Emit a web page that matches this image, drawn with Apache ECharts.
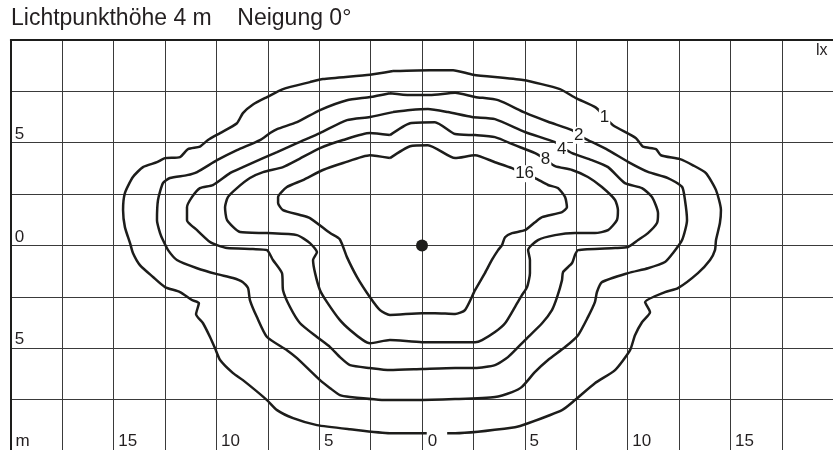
<!DOCTYPE html>
<html><head><meta charset="utf-8">
<script src="https://cdn.jsdelivr.net/npm/echarts@6/dist/echarts.min.js"></script>
<style>html,body{margin:0;padding:0;background:#fff}#c{width:833px;height:450px}</style>
</head><body><div id="c"></div>
<script>
const titleText = 'Lichtpunkthöhe 4 m    Neigung 0°';
const unitText = 'lx';
const xTickLabels = ['m','','15','','10','','5','','0','','5','','10','','15','',''];
const yTickLabels = ['','','5','','0','','5','',''];
const contourLevels = ['1','2','4','8','16'];
const labelPositions = [[8.88,6.22],[7.62,5.36],[6.79,4.70],[6.01,4.18],[4.99,3.49]];
const luminaire = [[0,0]];

const lux1 = [[-1.41,8.49],[0.39,8.53],[1.51,8.53],[2.48,8.31],[4.91,8.05],[6.71,7.61],[7.49,7.17],[8.46,6.71],[8.85,6.29],[9.29,5.85],[10.41,5.22],[10.75,4.81],[11.38,4.69],[11.62,4.39],[12.55,4.20],[13.18,3.90],[13.81,3.52],[14.30,2.69],[14.54,1.72],[14.49,1.09],[14.30,0.26],[14.25,-0.23],[14.01,-0.71],[13.42,-1.35],[12.45,-2.08],[11.82,-2.27],[10.85,-2.76],[11.09,-3.25],[10.70,-3.74],[10.36,-4.37],[10.12,-5.10],[9.39,-6.07],[8.41,-6.71],[7.44,-7.53],[6.81,-8.02],[5.16,-8.66],[4.52,-8.85],[1.61,-9.14],[0,-9.14],[-1.56,-9.14],[-3.50,-8.95],[-5.11,-8.75],[-6.27,-8.41],[-7.05,-8.02],[-7.54,-7.53],[-8.71,-6.56],[-9.19,-6.22],[-9.82,-5.58],[-10.07,-5.00],[-10.31,-4.46],[-10.65,-3.79],[-10.99,-3.35],[-10.85,-2.81],[-11.19,-2.66],[-11.77,-2.27],[-12.50,-2.03],[-13.08,-1.54],[-13.72,-0.96],[-14.06,-0.37],[-14.20,0.11],[-14.45,0.89],[-14.54,1.72],[-14.45,2.55],[-14.06,3.33],[-13.57,3.81],[-12.89,4.05],[-12.50,4.25],[-11.77,4.30],[-11.38,4.69],[-10.80,4.81],[-10.41,5.13],[-9.82,5.47],[-9.00,5.95],[-8.71,6.44],[-8.22,6.86],[-7.54,7.22],[-6.76,7.61],[-5.45,7.95],[-4.82,8.10],[-2.53,8.31],[-1.41,8.49]];

const lux2 = [[-1.56,7.41],[-0.58,7.32],[0.39,7.32],[1.61,7.43],[2.58,7.23],[3.70,7.07],[5.01,6.46],[6.13,6.02],[7.30,5.61],[7.59,5.37],[8.07,5.13],[9.05,4.64],[10.02,4.07],[10.99,3.58],[11.96,3.28],[12.65,2.85],[12.79,2.21],[12.89,1.23],[12.65,0.26],[12.21,-0.37],[11.82,-0.81],[10.99,-1.11],[10.02,-1.35],[8.75,-1.79],[8.51,-2.27],[8.41,-2.76],[8.07,-3.49],[7.59,-4.37],[6.96,-4.95],[6.13,-5.58],[5.50,-6.16],[4.86,-6.89],[4.38,-7.14],[3.55,-7.38],[1.61,-7.48],[-0.34,-7.53],[-1.70,-7.53],[-3.50,-7.38],[-3.99,-7.29],[-4.47,-6.95],[-4.96,-6.56],[-6.08,-5.49],[-6.57,-5.10],[-7.54,-4.46],[-8.03,-3.49],[-8.37,-2.66],[-8.46,-2.08],[-8.71,-1.79],[-9.19,-1.59],[-9.97,-1.40],[-10.94,-1.11],[-11.92,-0.71],[-12.35,-0.23],[-12.60,0.26],[-12.74,0.60],[-12.89,1.23],[-12.84,2.21],[-12.60,3.03],[-12.26,3.28],[-11.43,3.42],[-10.94,3.57],[-9.97,4.15],[-9.00,4.64],[-7.88,5.13],[-7.39,5.47],[-7.05,5.66],[-6.08,6.00],[-4.96,6.59],[-3.65,7.07],[-2.53,7.22],[-1.56,7.41]];

const lux4 = [[-1.41,6.49],[-0.58,6.59],[0.29,6.64],[1.26,6.49],[2.43,6.25],[3.55,6.15],[5.01,5.52],[6.47,5.03],[6.81,4.79],[7.30,4.49],[8.27,4.15],[9.05,3.81],[9.87,3.03],[10.70,2.79],[11.19,2.35],[11.48,1.57],[11.43,1.09],[10.99,0.60],[10.51,0.26],[10.02,-0.08],[9.39,-0.13],[7.59,-0.23],[7.44,-0.47],[7.30,-0.86],[6.86,-1.30],[6.81,-1.69],[6.57,-2.52],[6.32,-3.15],[5.84,-3.79],[5.01,-4.61],[4.18,-5.44],[3.55,-5.83],[2.58,-5.97],[1.61,-5.97],[0,-6.02],[-1.56,-6.07],[-2.53,-5.97],[-3.50,-5.83],[-3.99,-5.44],[-4.47,-4.95],[-5.11,-4.46],[-5.93,-3.79],[-6.42,-3.00],[-6.76,-2.18],[-6.81,-1.35],[-7.25,-0.71],[-7.54,-0.23],[-8.22,-0.18],[-9.48,-0.13],[-9.97,0.01],[-10.31,0.16],[-10.94,0.74],[-11.43,1.23],[-11.43,1.86],[-11.19,2.35],[-10.80,2.79],[-10.17,2.94],[-9.34,3.52],[-8.71,3.81],[-7.73,4.25],[-7.05,4.54],[-6.08,4.98],[-4.96,5.47],[-3.65,6.10],[-2.53,6.25],[-1.41,6.49]];

const lux8 = [[-1.56,5.37],[-0.58,5.95],[0.63,6.00],[1.61,5.42],[2.58,5.37],[3.55,5.27],[4.52,4.88],[5.50,4.49],[5.98,4.20],[6.47,3.86],[7.30,3.67],[8.07,3.33],[8.75,2.84],[9.39,2.21],[9.53,1.72],[9.48,1.23],[9.05,0.74],[8.41,0.60],[7.44,0.60],[6.47,0.50],[5.64,0.26],[5.16,-0.23],[5.25,-0.71],[5.25,-1.35],[5.11,-2.03],[4.86,-2.42],[4.52,-3.00],[4.04,-3.79],[3.55,-4.22],[2.92,-4.61],[2.58,-4.71],[1.61,-4.71],[0,-4.71],[-1.56,-4.61],[-2.53,-4.76],[-2.87,-4.61],[-3.50,-4.12],[-3.99,-3.64],[-4.62,-2.76],[-4.96,-2.18],[-5.20,-1.35],[-5.30,-0.71],[-5.11,-0.33],[-5.45,0.11],[-6.08,0.50],[-7.54,0.60],[-8.85,0.65],[-9.48,1.23],[-9.58,1.86],[-9.44,2.35],[-9.00,2.79],[-8.37,3.28],[-7.73,3.57],[-6.76,3.81],[-6.08,4.15],[-4.96,4.74],[-3.84,5.13],[-2.53,5.47],[-1.56,5.37]];

const lux16 = [[-1.56,4.25],[-0.58,4.83],[0.29,4.88],[1.61,4.25],[2.58,4.39],[3.55,4.05],[4.38,3.76],[5.01,3.47],[5.50,3.28],[6.13,2.94],[6.61,2.79],[6.96,2.35],[7.05,1.86],[6.81,1.62],[5.84,1.38],[5.50,1.13],[5.01,0.74],[4.38,0.60],[4.04,0.40],[3.89,0.01],[3.70,-0.23],[3.40,-0.71],[3.06,-1.35],[2.58,-2.18],[2.09,-3.15],[1.61,-3.34],[0.63,-3.30],[0,-3.30],[-1.56,-3.39],[-2.04,-3.15],[-2.53,-2.52],[-3.16,-1.54],[-3.65,-0.57],[-4.00,0.30],[-4.47,0.60],[-5.45,1.33],[-5.93,1.48],[-6.76,1.72],[-7.00,2.06],[-7.00,2.35],[-6.57,2.84],[-5.79,3.18],[-4.82,3.67],[-3.84,4.01],[-2.53,4.39],[-1.56,4.25]];

const FONT = "'Liberation Sans', Arial, Helvetica, sans-serif";
const INK = '#1d1d1b';
const TXT = '#231f20';
const GRIDC = '#3a3a3a';

function contour(name, data) {
  return {
    name, type: 'line', data, xAxisIndex: 0, yAxisIndex: 0,
    showSymbol: false, symbol: 'none', smooth: 0.2, silent: true,
    lineStyle: { color: INK, width: 2.5 }, z: 3
  };
}

const chart = echarts.init(document.getElementById('c'), null, { renderer: 'canvas' });
chart.setOption({
  animation: false,
  backgroundColor: '#fff',
  title: {
    text: titleText, left: 11, top: 7, padding: 0,
    textStyle: { fontSize: 23, fontWeight: 'normal', color: TXT, fontFamily: FONT }
  },
  graphic: [{
    type: 'text', left: 816, top: 43,
    style: { text: unitText, fontSize: 16, fill: TXT, fontFamily: FONT }
  }],
  grid: { left: 10.8, top: 40, width: 822.4, height: 410.8, containLabel: false, outerBoundsMode: 'none' },
  xAxis: [
    {
      type: 'value', position: 'top', min: -20, max: 20, interval: 2.5,
      axisLine: { show: true, onZero: false, lineStyle: { color: INK, width: 2 } },
      axisTick: { show: false }, axisLabel: { show: false },
      splitLine: { show: true, lineStyle: { color: GRIDC, width: 1 } }
    },
    {
      type: 'value', position: 'bottom', min: -20, max: 20, interval: 2.5, z: 10,
      axisLine: { show: false }, axisTick: { show: false }, splitLine: { show: false },
      axisLabel: {
        show: true, inside: true, margin: -2, align: 'left',
        fontSize: 17, color: TXT, fontFamily: FONT,
        formatter: function (v) {
          const t = xTickLabels[Math.round((v + 20) / 2.5)];
          if (!t) return '';
          if (t === '0') return '{a| }{w|0}';
          return '{a| ' + t + '}';
        },
        rich: {
          a: { fontSize: 17, fontFamily: FONT, color: TXT, padding: [3, 0, 3, 0] },
          w: { fontSize: 17, fontFamily: FONT, color: TXT, backgroundColor: '#fff', padding: [3, 10, 3, 1] }
        }
      }
    }
  ],
  yAxis: [
    {
      type: 'value', position: 'left', min: -10, max: 10, interval: 2.5,
      axisLine: { show: true, onZero: false, lineStyle: { color: INK, width: 2 } },
      axisTick: { show: false }, axisLabel: { show: false },
      splitLine: { show: true, lineStyle: { color: GRIDC, width: 1 } }
    },
    {
      type: 'value', position: 'left', min: -10, max: 10, interval: 2.5, z: 10,
      axisLine: { show: false }, axisTick: { show: false }, splitLine: { show: false },
      axisLabel: {
        show: true, inside: true, margin: 4, align: 'left', verticalAlign: 'bottom',
        fontSize: 17, color: TXT, fontFamily: FONT,
        formatter: function (v) { return yTickLabels[Math.round((v + 10) / 2.5)] || ''; }
      }
    }
  ],
  series: [
    contour('1 lx', lux1),
    contour('2 lx', lux2),
    contour('4 lx', lux4),
    contour('8 lx', lux8),
    contour('16 lx', lux16),
    {
      type: 'scatter', data: luminaire, symbolSize: 12, silent: true,
      itemStyle: { color: INK, opacity: 1 }, z: 4
    },
    {
      type: 'scatter', silent: true, z: 6, symbolSize: 1,
      itemStyle: { color: '#fff', opacity: 1 },
      data: contourLevels.map((l, i) => ({ name: l, value: labelPositions[i] })),
      label: {
        show: true, position: 'inside', formatter: '{b}',
        fontSize: 17, color: INK, fontFamily: FONT, opacity: 1,
        backgroundColor: '#fff', padding: [0, 1]
      }
    }
  ]
});
</script>
</body></html>
